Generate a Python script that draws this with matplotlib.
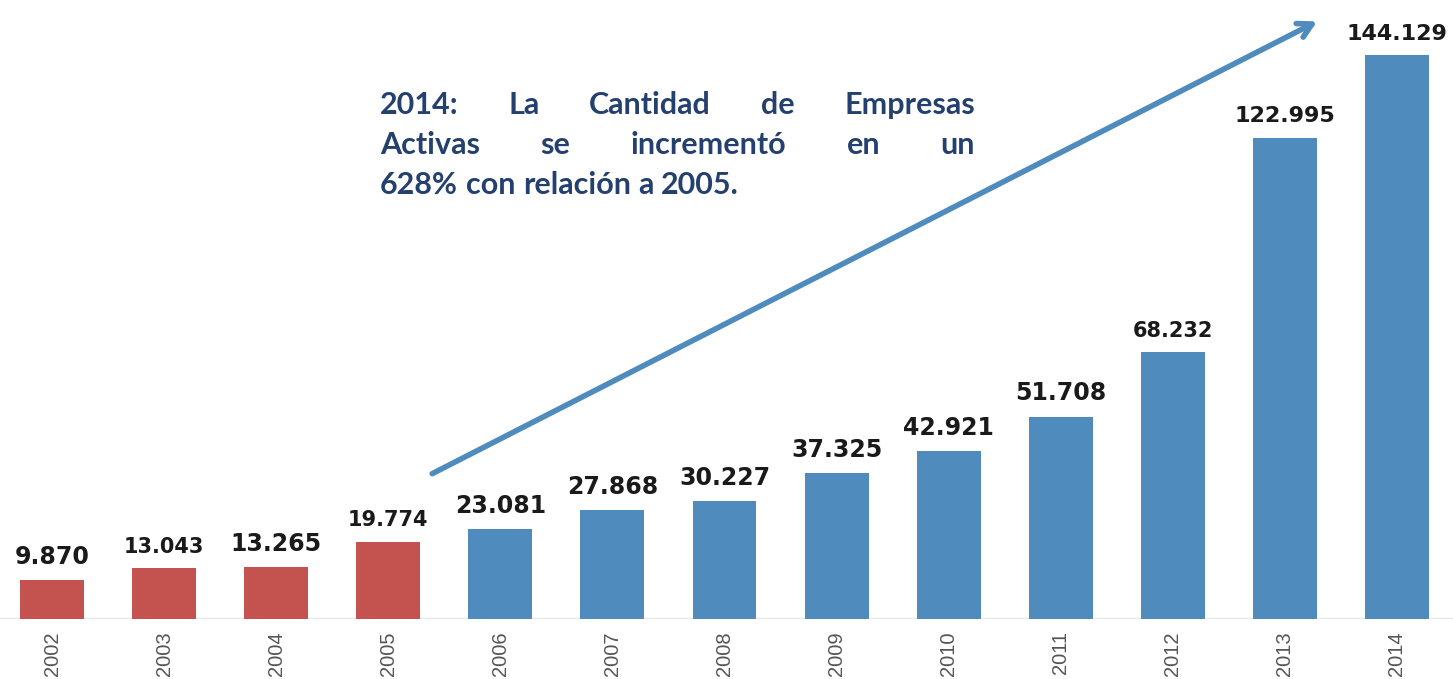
import matplotlib
matplotlib.use('Agg')
from matplotlib import pyplot as plt

anios = ['2002', '2003', '2004', '2005', '2006', '2007', '2008', '2009',
         '2010', '2011', '2012', '2013', '2014']
empresas = [9870, 13043, 13265, 19774, 23081, 27868, 30227, 37325,
            42921, 51708, 68232, 122995, 144129]
texto = ['2014: La Cantidad de Empresas',
         'Activas se incrementó en un',
         '628% con relación a 2005.']

rojo = '#C4534F'
azul = '#4F8BBD'
colores = [rojo] * 4 + [azul] * 9
tam_etiquetas = [17, 15, 17, 15, 17, 17, 17, 17, 17, 17, 15, 16, 16]

fig = plt.figure(figsize=(14.53, 6.79), dpi=100)
ax = fig.add_axes([0, 0.0884, 1, 0.9116])
x = range(len(anios))
ax.bar(x, empresas, width=0.57, color=colores)
ax.set_xlim(-0.464, 12.5)
ax.set_ylim(0, 158150)
ax.axhline(0, color='#e6e6e6', lw=1.5, zorder=0)

for i, v in enumerate(empresas):
    ax.annotate(f'{v:,}'.replace(',', '.'), (i, v), xytext=(0, 8),
                textcoords='offset points', ha='center', va='bottom',
                fontsize=tam_etiquetas[i], fontweight='bold', color='#1a1a1a',
                annotation_clip=False)

ax.set_xticks(list(x))
ax.set_xticklabels(anios, rotation=90, fontsize=14.5, color='#555555',
                   family='Liberation Sans')
ax.tick_params(axis='x', length=0, pad=9)
ax.set_yticks([])
for s in ax.spines.values():
    s.set_visible(False)

# flecha
ax.annotate('', xy=(11.31, 153000), xytext=(3.37, 36800),
            arrowprops=dict(arrowstyle='->, head_length=1.0, head_width=0.55',
                            color=azul, lw=4))

# texto justificado
renderer = fig.canvas.get_renderer()
izq, der = 380, 975
ys = [105, 145, 185]
estilo = dict(fontsize=22, fontweight='bold', color='#24406E', family='Lato',
              va='center', ha='left')
for n, linea in enumerate(texto):
    palabras = linea.split(' ')
    objs = [fig.text(0, 0, p, **estilo) for p in palabras]
    anchos = [o.get_window_extent(renderer).width for o in objs]
    if n < len(texto) - 1:
        hueco = (der - izq - sum(anchos)) / (len(palabras) - 1)
    else:
        hueco = objs[0].get_fontsize() * 100 / 72 * 0.25
    pos = izq
    for o, w in zip(objs, anchos):
        o.set_position((pos / 1453, 1 - ys[n] / 679))
        pos += w + hueco

fig.savefig('out.png', dpi=100)
